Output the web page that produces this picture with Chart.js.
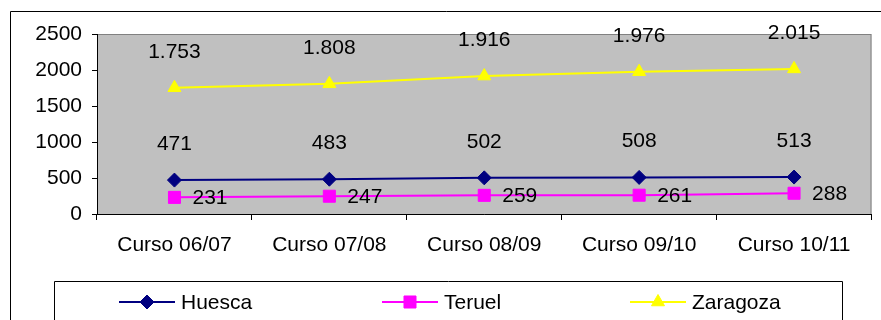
<!DOCTYPE html>
<html>
<head>
<meta charset="utf-8">
<script src="https://cdn.jsdelivr.net/npm/chart.js@4/dist/chart.umd.min.js"></script>
<style>
  html, body { margin: 0; padding: 0; background: #fff; }
  #wrap { width: 881px; height: 320px; position: relative; }
</style>
</head>
<body>
<div id="wrap"><canvas id="chart" width="881" height="320"></canvas></div>
<script>
// Data
const cursos = ["Curso 06/07", "Curso 07/08", "Curso 08/09", "Curso 09/10", "Curso 10/11"];
const huesca = [471, 483, 502, 508, 513];
const teruel = [231, 247, 259, 261, 288];
const zaragoza = [1753, 1808, 1916, 1976, 2015];
const yTicks = [0, 500, 1000, 1500, 2000, 2500];

const FONT = '"Liberation Sans", Arial, sans-serif';

// Spanish style thousands separator: 1753 -> 1.753
function fmt(v) {
    return String(v).replace(/\B(?=(\d{3})+(?!\d))/g, ".");
}

// Gray plot background + outer frame
const backdrop = {
    id: 'backdrop',
    beforeDraw(chart) {
        const {ctx, chartArea: a} = chart;
        ctx.save();
        ctx.fillStyle = '#c0c0c0';
        ctx.fillRect(a.left, a.top, a.right - a.left, a.bottom - a.top);
        ctx.strokeStyle = '#808080';
        ctx.lineWidth = 1;
        ctx.strokeRect(a.left + 0.5, a.top + 0.5, a.right - a.left - 1, a.bottom - a.top);
        // outer chart frame (cut off on right and bottom)
        ctx.strokeStyle = '#000';
        ctx.beginPath();
        ctx.moveTo(10.5, 330);
        ctx.lineTo(10.5, 11.5);
        ctx.lineTo(890, 11.5);
        ctx.stroke();
        ctx.restore();
    }
};

// Value labels
const valueLabels = {
    id: 'valueLabels',
    afterDatasetsDraw(chart) {
        const {ctx} = chart;
        ctx.save();
        ctx.font = '21px ' + FONT;
        ctx.fillStyle = '#000';
        chart.data.datasets.forEach((ds, i) => {
            chart.getDatasetMeta(i).data.forEach((pt, j) => {
                const txt = fmt(ds.data[j]);
                ctx.textBaseline = 'middle';
                if (ds.labelPos === 'right') {
                    ctx.textAlign = 'left';
                    ctx.fillText(txt, pt.x + 18, pt.y + 1);
                } else {
                    ctx.textAlign = 'center';
                    ctx.fillText(txt, pt.x, pt.y - 36);
                }
            });
        });
        ctx.restore();
    }
};

// Legend box at the bottom, line + marker per series
const legendBox = {
    id: 'legendBox',
    afterDraw(chart) {
        const {ctx} = chart;
        ctx.save();
        ctx.strokeStyle = '#000';
        ctx.lineWidth = 1;
        ctx.beginPath();
        ctx.moveTo(54.5, 330);
        ctx.lineTo(54.5, 281.5);
        ctx.lineTo(842.5, 281.5);
        ctx.lineTo(842.5, 330);
        ctx.stroke();
        const starts = [119, 382, 630];
        const y = 302;
        chart.data.datasets.forEach((ds, i) => {
            const x0 = starts[i];
            ctx.strokeStyle = ds.borderColor;
            ctx.lineWidth = 2;
            ctx.beginPath();
            ctx.moveTo(x0, y);
            ctx.lineTo(x0 + 56, y);
            ctx.stroke();
            ctx.fillStyle = ds.backgroundColor;
            ctx.strokeStyle = ds.borderColor;
            ctx.lineWidth = 1;
            Chart.helpers.drawPoint(ctx, {pointStyle: ds.pointStyle, radius: ds.pointRadius, borderWidth: 1}, x0 + 28, y);
            ctx.fillStyle = '#000';
            ctx.font = '21px ' + FONT;
            ctx.textAlign = 'left';
            ctx.textBaseline = 'middle';
            ctx.fillText(ds.label, x0 + 62, y + 1);
        });
        ctx.restore();
    }
};

new Chart(document.getElementById('chart').getContext('2d'), {
    type: 'line',
    data: {
        labels: cursos,
        datasets: [
            {
                label: 'Huesca',
                data: huesca,
                borderColor: '#000080',
                backgroundColor: '#000080',
                borderWidth: 2,
                pointStyle: 'rectRot',
                pointRadius: 7,
                pointBorderWidth: 1,
                labelPos: 'above'
            },
            {
                label: 'Teruel',
                data: teruel,
                borderColor: '#ff00ff',
                backgroundColor: '#ff00ff',
                borderWidth: 2,
                pointStyle: 'rect',
                pointRadius: 8.5,
                pointBorderWidth: 1,
                labelPos: 'right'
            },
            {
                label: 'Zaragoza',
                data: zaragoza,
                borderColor: '#ffff00',
                backgroundColor: '#ffff00',
                borderWidth: 2,
                pointStyle: 'triangle',
                pointRadius: 7.5,
                pointBorderWidth: 1,
                labelPos: 'above'
            }
        ]
    },
    options: {
        responsive: false,
        animation: false,
        layout: {padding: {top: 34, right: 5, left: 0, bottom: 0}},
        plugins: {
            legend: {display: false},
            title: {display: false},
            tooltip: {enabled: false}
        },
        scales: {
            x: {
                offset: true,
                grid: {offset: true, drawOnChartArea: false, drawTicks: true, tickLength: 6, color: '#000'},
                border: {color: '#000', width: 1},
                ticks: {color: '#000', font: {family: FONT, size: 21}, padding: 13, maxRotation: 0, autoSkip: false},
                afterFit(scale) { scale.height = 106; }
            },
            y: {
                min: 0,
                max: 2500,
                afterBuildTicks(scale) { scale.ticks = yTicks.map(v => ({value: v})); },
                grid: {drawOnChartArea: false, drawTicks: true, tickLength: 5, color: '#000'},
                border: {color: '#000', width: 1},
                ticks: {color: '#000', font: {family: FONT, size: 21}, padding: 10, callback: v => String(v)},
                afterFit(scale) { scale.width = 97; }
            }
        }
    },
    plugins: [backdrop, valueLabels, legendBox]
});
</script>
</body>
</html>
